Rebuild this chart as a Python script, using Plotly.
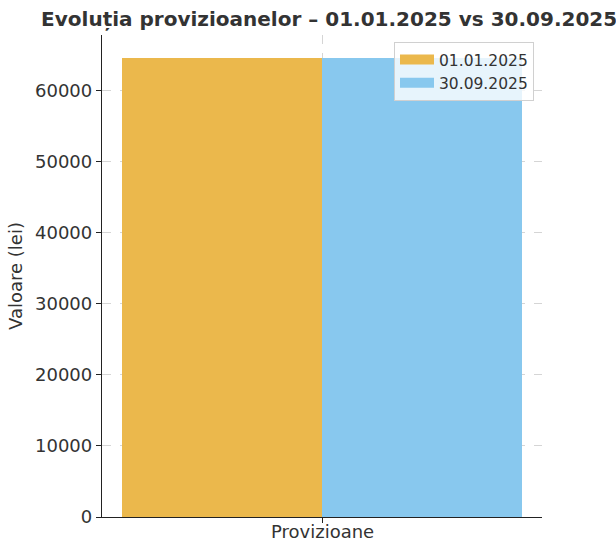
import plotly.graph_objects as go

categories = ["Provizioane"]
series_names = ["01.01.2025", "30.09.2025"]
values_start = [64650]
values_end = [64650]
colors = ["#EBB84C", "#88C8EE"]
y_ticks = [0, 10000, 20000, 30000, 40000, 50000, 60000]

W, H = 616, 541
L, R, T, B = 102, 542, 35, 517

fig = go.Figure()
for name, vals, c in zip(series_names, [values_start, values_end], colors):
    fig.add_trace(go.Bar(x=categories, y=vals, name=name, showlegend=False,
                         legendgroup=name, marker=dict(color=c, line=dict(width=0))))
# legend entries drawn as wide colour swatches (like the reference)
for name, c in zip(series_names, colors):
    fig.add_trace(go.Scatter(x=[None], y=[None], name=name, mode="lines", legendgroup=name,
                             line=dict(color=c, width=12), hoverinfo="skip"))

font = "DejaVu Sans"
fig.update_layout(
    width=W, height=H,
    margin=dict(l=L, r=W - R, t=T, b=H - B, autoexpand=False),
    paper_bgcolor="white", plot_bgcolor="white",
    barmode="group", bargap=1 - 400 / 440, bargroupgap=0,
    font=dict(family=font, color="#333333", size=18),
    title=dict(text="<b>Evoluția provizioanelor – 01.01.2025 vs 30.09.2025</b>",
               x=318 / W, xanchor="center", xref="paper",
               y=1 - 19 / H, yanchor="middle", yref="container",
               font=dict(size=20, color="#333333", family=font)),
    legend=dict(x=(534 - L) / (R - L), xanchor="right", y=(B - 42) / (B - T), yanchor="top",
                bgcolor="rgba(255,255,255,0.8)", bordercolor="#D0D0D0", borderwidth=1,
                font=dict(size=15.5, color="#333333"), itemwidth=34, tracegroupgap=0),
    showlegend=True,
)
fig.add_annotation(x=categories[0], xref="x", y=0, yref="paper", yanchor="top", yshift=-2,
                   text=categories[0], showarrow=False, font=dict(size=18, color="#333333"))
fig.update_xaxes(showline=True, linecolor="#222222", linewidth=1.3, mirror=False,
                 showgrid=True, gridcolor="#D5D5D5", griddash="dash", gridwidth=1,
                 ticks="outside", ticklen=5, tickcolor="#222222", showticklabels=False,
                 zeroline=False)
fig.update_yaxes(range=[0, max(values_start + values_end) * 1.05], showline=True, linecolor="#222222", linewidth=1.3,
                 showgrid=True, gridcolor="#D5D5D5", griddash="dash", gridwidth=1,
                 ticks="outside", ticklen=5, tickcolor="#222222",
                 tickvals=y_ticks, ticktext=[str(v) for v in y_ticks],
                 tickfont=dict(size=18, color="#333333"), zeroline=False,
                 title=dict(text="Valoare (lei)", font=dict(size=18, color="#333333"), standoff=7))
fig.write_html("out.html", config={"displayModeBar": False},
               post_script="document.body.style.margin='0';document.body.style.overflow='hidden';")
